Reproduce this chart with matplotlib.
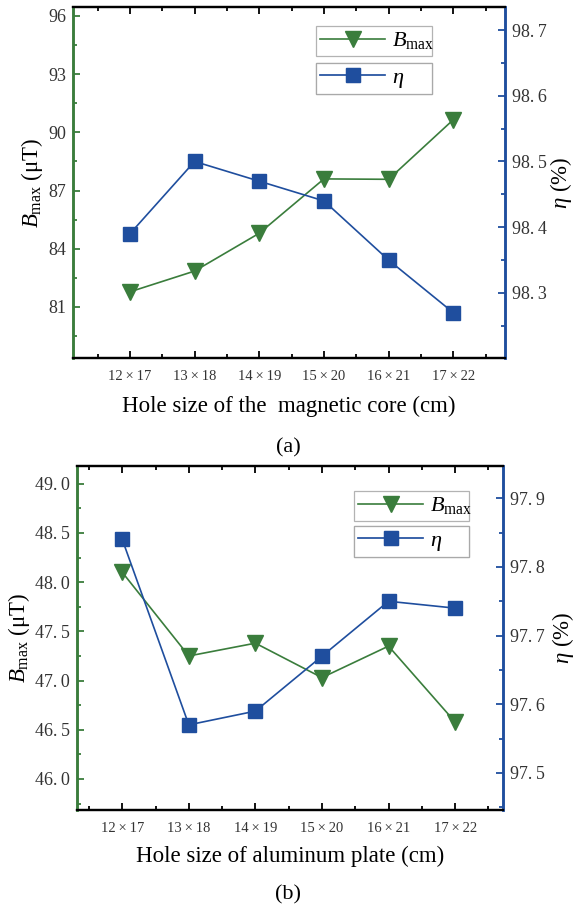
import matplotlib
matplotlib.use("Agg")
import matplotlib.pyplot as plt
from matplotlib.lines import Line2D
import numpy as np

plt.rcParams['font.family'] = ['Liberation Serif', 'DejaVu Serif']
plt.rcParams['mathtext.fontset'] = 'custom'
plt.rcParams['mathtext.rm'] = 'Liberation Serif'
plt.rcParams['mathtext.it'] = 'Liberation Serif:italic'

categories = ['12×17', '13×18', '14×19', '15×20', '16×21', '17×22']
bmax_a = [81.78, 82.85, 84.8, 87.6, 87.58, 90.65]
eta_a = [98.39, 98.50, 98.47, 98.44, 98.35, 98.27]
bmax_b = [48.1, 47.25, 47.38, 47.03, 47.35, 46.58]
eta_b = [97.84, 97.57, 97.59, 97.67, 97.75, 97.74]

GREEN = '#3a7d3c'
BLUE = '#1f4e9e'
TS = '\u2009'

fig = plt.figure(figsize=(5.76, 9.10), dpi=100)
W, H = 576.0, 910.0


def panel(px, bvals, evals, ylim1, yt1, ymin1, ylim2, yt2, ymin2, xlim,
          xlabel, cap, capy, fmt1, legs, xlab_y, ylab_x, rlab_x):
    l, t, r, b = px
    ax = fig.add_axes([l / W, 1 - b / H, (r - l) / W, (b - t) / H])
    hgt = b - t
    wid = r - l
    x = np.arange(len(categories))
    ax.plot(x, bvals, color=GREEN, lw=1.2, marker='v', ms=11.5, zorder=3)
    ax2 = ax.twinx()
    ax2.plot(x, evals, color=BLUE, lw=1.2, marker='s', ms=9.5, zorder=3)
    ax.set_xlim(*xlim)
    ax.set_ylim(*ylim1)
    ax2.set_ylim(*ylim2)
    ax.set_xticks(x)
    ax.set_xticklabels([c.replace('×', TS + '×' + TS) for c in categories],
                       fontsize=10.5, color='#333333')
    ax.set_xticks(np.arange(-0.5, len(categories) + 0.5, 1), minor=True)
    ax.set_yticks(yt1)
    ax.set_yticklabels([fmt1(v) for v in yt1], fontsize=13, color='#333333')
    ax.set_yticks(ymin1, minor=True)
    ax2.set_yticks(yt2)
    ax2.set_yticklabels([('%.1f' % v).replace('.', '.' + TS) for v in yt2],
                        fontsize=13, color='#333333')
    ax2.set_yticks(ymin2, minor=True)
    for a in (ax, ax2):
        a.tick_params(which='both', direction='in', top=True)
        a.tick_params(which='major', length=5, width=1.3)
        a.tick_params(which='minor', length=3, width=1.3)
    ax.tick_params(axis='x', which='both', top=True, bottom=True, pad=9)
    ax.tick_params(axis='y', which='both', colors=GREEN, labelcolor='#333333',
                   right=False, pad=5)
    ax2.tick_params(axis='y', which='both', colors=BLUE, labelcolor='#333333', pad=5)
    for a in (ax, ax2):
        a.spines['top'].set_linewidth(1.6)
        a.spines['bottom'].set_linewidth(1.6)
        a.spines['left'].set_color(GREEN)
        a.spines['left'].set_linewidth(1.8)
        a.spines['right'].set_color(BLUE)
        a.spines['right'].set_linewidth(1.8)
    ax.set_xlabel(xlabel, fontsize=16.5)
    ax.xaxis.set_label_coords(0.5, -(xlab_y - b) / hgt)
    ax.xaxis.label.set_va('center')
    ax.set_ylabel(r'$B_{\mathrm{max}}$ (μT)', fontsize=16.5)
    ax.yaxis.set_label_coords((ylab_x - l) / wid, 0.5)
    ax.yaxis.label.set_va('center')
    ax2.set_ylabel(r'$\eta$ (%)', fontsize=16.5)
    ax2.yaxis.set_label_coords((rlab_x - l) / wid, 0.5)
    ax2.yaxis.label.set_va('center')
    fig.text(0.5, 1 - capy / H, cap, fontsize=16, ha='center', va='center')

    h1 = Line2D([], [], color=GREEN, lw=1.2, marker='v', ms=11.5)
    h2 = Line2D([], [], color=BLUE, lw=1.2, marker='s', ms=9.5)
    for h, lab, (lx, ly, lw_) in zip((h1, h2), (r'$B_{\mathrm{max}}$', r'$\eta$'), legs):
        leg = ax2.legend([h], [lab], loc='upper left',
                         bbox_to_anchor=(lx / W, 1 - ly / H, lw_ / W, 0),
                         bbox_transform=fig.transFigure, fontsize=16,
                         mode='expand', frameon=True, fancybox=False,
                         handlelength=2.9, borderpad=0.2, handletextpad=0.3,
                         borderaxespad=0)
        leg.get_frame().set_edgecolor('#a0a0a0')
        leg.get_frame().set_linewidth(0.9)
        ax2.add_artist(leg)
    return ax, ax2


panel((73, 7, 505, 358),
      bmax_a, eta_a,
      (78.37, 96.46), [81, 84, 87, 90, 93, 96], np.arange(79.5, 96.5, 3),
      (98.201, 98.735), [98.3, 98.4, 98.5, 98.6, 98.7], np.arange(98.25, 98.75, 0.1),
      (-0.88, 5.8), 'Hole size of the  magnetic core (cm)', '(a)', 448,
      lambda v: '%d' % v,
      [(316, 26, 116), (316, 63, 116)], 406, 32, 561)

panel((77, 466, 503, 810),
      bmax_b, eta_b,
      (45.685, 49.18), [46.0, 46.5, 47.0, 47.5, 48.0, 48.5, 49.0], np.arange(45.75, 49.2, 0.5),
      (97.446, 97.947), [97.5, 97.6, 97.7, 97.8, 97.9], np.arange(97.45, 97.95, 0.1),
      (-0.68, 5.72), 'Hole size of aluminum plate (cm)', '(b)', 895,
      lambda v: ('%.1f' % v).replace('.', '.' + TS),
      [(354, 491, 115), (354, 526, 115)], 856, 19, 563)

fig.savefig('out.png', dpi=100)
